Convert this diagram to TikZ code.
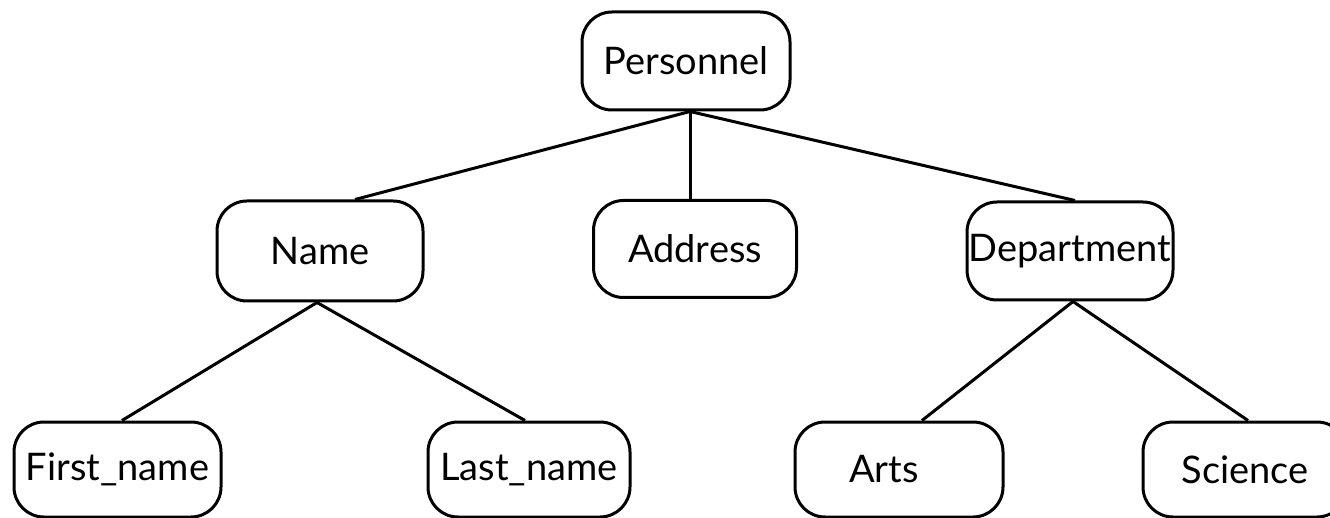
\documentclass[tikz,border=0pt]{standalone}
\usepackage{fontspec}
\setmainfont{Lato}
\usetikzlibrary{calc}
\tikzset{
  box/.style={draw=black, line width=3pt, rounded corners=30pt, fill=white,
    inner sep=0pt, minimum width=205pt, minimum height=97pt,
    font=\fontsize{38}{44}\selectfont},
  link/.style={draw=black, line width=3pt}
}
\begin{document}
\begin{tikzpicture}[x=1pt,y=-1pt]
\useasboundingbox (0,0) rectangle (1330,518);
\node[box, minimum width=208pt, minimum height=98pt] (P) at (686,61) {Personnel};
\node[box, minimum width=206pt, minimum height=100pt] (N) at (320,251) {Name};
\node[box, minimum width=203pt] (A) at (695,249) {Address};
\node[box, minimum width=206pt, minimum height=98pt] (D) at (1070,251) {Department};
\node[box, minimum width=207pt, minimum height=95pt] (F) at (117.5,469.5) {First\_name};
\node[box, minimum width=202pt, minimum height=95pt] (L) at (529,469.5) {Last\_name};
\node[box, minimum width=208pt, minimum height=95pt] (R) at (899,469.5) {\hspace*{-30pt}Arts};
\node[box, minimum width=204pt, minimum height=95pt] (S) at (1245,469.5) {Science};
\draw[link] ([xshift=4pt]P.south) -- ([xshift=35pt]N.north);
\draw[link] ([xshift=4pt]P.south) -- ([xshift=-5pt]A.north);
\draw[link] ([xshift=4pt]P.south) -- ([xshift=5pt]D.north);
\draw[link] ([xshift=-3pt]N.south) -- ([xshift=4.5pt]F.north);
\draw[link] ([xshift=-3pt]N.south) -- ([xshift=-4pt]L.north);
\draw[link] ([xshift=3pt]D.south) -- ([xshift=23pt]R.north);
\draw[link] ([xshift=3pt]D.south) -- ([xshift=3pt]S.north);
\end{tikzpicture}
\end{document}
